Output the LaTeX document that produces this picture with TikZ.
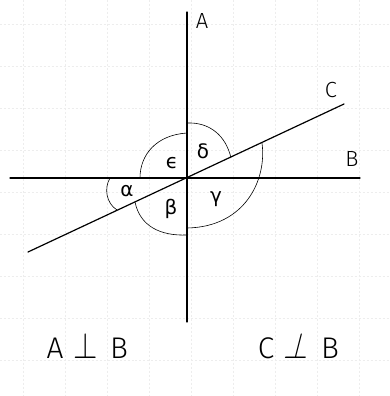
\RequirePackage{fix-cm}
\documentclass[tikz,border=0pt]{standalone}
\usepackage{fontspec}
\setmainfont{Fira Sans Light}
\newfontfamily\greekfont{DejaVu Sans}
\usetikzlibrary{calc}
\begin{document}
\begin{tikzpicture}[x=1bp,y=-1bp,
  gridline/.style={draw=gray!14,line width=0.4pt,dash pattern=on 2pt off 2pt},
  mainline/.style={line width=1.2pt,line cap=round},
  arcline/.style={line width=0.6pt},
  linelabel/.style={font=\fontsize{22}{24}\selectfont,inner sep=0pt},
  anglelabel/.style={font=\greekfont\fontsize{20}{22}\selectfont,inner sep=0pt},
  relation/.style={font=\fontsize{30}{32}\selectfont,inner sep=0pt,anchor=base},
  perpsym/.style={font=\fontsize{37}{39}\selectfont,inner sep=0pt,anchor=base,xscale=0.85}]
\useasboundingbox (0,0) rectangle (390,396);
\fill[white] (0,0) rectangle (390,396);
% faint notebook grid
\foreach \gx in {23,65,107,149,191,233,275,317,359} \draw[gridline] (\gx,0) -- (\gx,396);
\foreach \gy in {24,66,108,150,192,234,276,318,360} \draw[gridline] (0,\gy) -- (390,\gy);
% points
\coordinate (O) at (187,178);
\coordinate (At) at (187,12);
\coordinate (Ab) at (187,322);
\coordinate (Bl) at (10,178);
\coordinate (Br) at (360,178);
\coordinate (Cl) at (28,252);
\coordinate (Cr) at (344,104);
% lines
\draw[mainline] (At) -- (Ab);
\draw[mainline] (Bl) -- (Br);
\draw[mainline] (Cl) -- (Cr);
% angle arcs
\coordinate (d1) at (187,123);
\coordinate (d2) at (231,158);
\draw[arcline] (d1) .. controls (210,122) and (226,136) .. (d2);
\coordinate (g1) at (262,143);
\coordinate (g2) at (187,228);
\draw[arcline] (g1) .. controls (267,180) and (245,227) .. (g2);
\coordinate (e1) at (187,133);
\coordinate (e2) at (140,178);
\draw[arcline] (e1) .. controls (156,135) and (140,155) .. (e2);
\coordinate (b1) at (135,202);
\coordinate (b2) at (187,235);
\draw[arcline] (b1) .. controls (140,226) and (160,236) .. (b2);
\coordinate (a1) at (110,178);
\coordinate (a2) at (117,210);
\draw[arcline] (a1) .. controls (104,188) and (106,203) .. (a2);
% line labels
\node[linelabel] (lA) at (202,21) {A};
\node[linelabel] (lC) at (331,90) {C};
\node[linelabel] (lB) at (352,159) {B};
% angle labels
\node[anglelabel] (alpha) at (127,191) {α};
\node[anglelabel] (beta) at (171,209) {β};
\node[anglelabel] (gamma) at (216,199) {γ};
\node[anglelabel] (delta) at (203,151) {δ};
\node[anglelabel] (eps) at (172,163) {ϵ};
% relations
\node[relation] (r1a) at (55,358) {A};
\node[perpsym] (r1p) at (86,358) {$\perp$};
\node[relation] (r1b) at (119,358) {B};
\node[relation] (r2c) at (266,358) {C};
\node[perpsym,xslant=0.3] (r2p) at (296,358) {$\perp$};
\node[relation] (r2b) at (330,358) {B};
\end{tikzpicture}
\end{document}
